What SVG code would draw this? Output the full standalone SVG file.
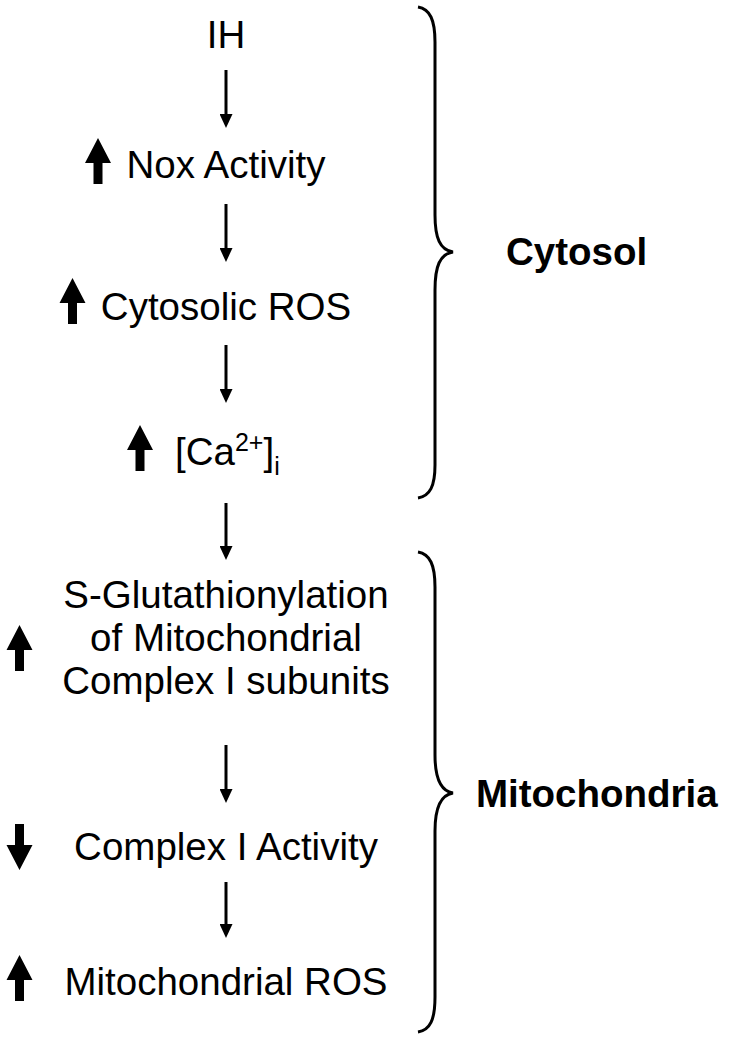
<svg xmlns="http://www.w3.org/2000/svg" width="729" height="1050" viewBox="0 0 729 1050">
  <style>
    .t { font-family: "Liberation Sans", Arial, sans-serif; font-size: 38.5px; fill: #000; }
    .c { text-anchor: middle; }
    .b { font-weight: bold; }
    .conn { stroke: #000; stroke-width: 3; fill: none; }
    .brace { stroke: #000; stroke-width: 3; fill: none; }
  </style>
  <defs>
    <marker id="ah" markerUnits="userSpaceOnUse" markerWidth="14" markerHeight="13" viewBox="0 0 14 13" refX="4" refY="6.5" orient="auto">
      <path d="M0,0 L14,6.5 L0,13 Z" fill="#000"/>
    </marker>
    <path id="up" d="M0,0 L13,25 L4.5,25 L4.5,46 L-4.5,46 L-4.5,25 L-13,25 Z" fill="#000"/>
  </defs>
  <rect width="729" height="1050" fill="#fff"/>

  <g id="connectors">
    <line class="conn" x1="226" y1="70" x2="226" y2="118" marker-end="url(#ah)"/>
    <line class="conn" x1="226" y1="204" x2="226" y2="252" marker-end="url(#ah)"/>
    <line class="conn" x1="226" y1="345" x2="226" y2="393" marker-end="url(#ah)"/>
    <line class="conn" x1="226" y1="503" x2="226" y2="550" marker-end="url(#ah)"/>
    <line class="conn" x1="226" y1="745" x2="226" y2="793" marker-end="url(#ah)"/>
    <line class="conn" x1="226" y1="882" x2="226" y2="928" marker-end="url(#ah)"/>
  </g>

  <g id="node-ih">
    <text class="t c" x="226" y="48">IH</text>
  </g>
  <g id="node-nox">
    <use href="#up" x="98" y="138"/>
    <text class="t c" x="226" y="178">Nox Activity</text>
  </g>
  <g id="node-cytros">
    <use href="#up" x="72.5" y="278"/>
    <text class="t c" x="226" y="320">Cytosolic ROS</text>
  </g>
  <g id="node-ca">
    <use href="#up" x="140" y="425"/>
    <text class="t" x="175" y="465">[Ca<tspan font-size="25" dy="-14">2+</tspan><tspan dy="14">]</tspan><tspan font-size="25" dy="10">i</tspan></text>
  </g>
  <g id="node-sglut">
    <use href="#up" x="19.5" y="625"/>
    <text class="t c" x="226" y="608">S-Glutathionylation</text>
    <text class="t c" x="226" y="651">of Mitochondrial</text>
    <text class="t c" x="226" y="694">Complex I subunits</text>
  </g>
  <g id="node-complex">
    <use href="#up" transform="translate(19.5,870) scale(1,-1)"/>
    <text class="t c" x="226" y="860">Complex I Activity</text>
  </g>
  <g id="node-mitoros">
    <use href="#up" x="19.5" y="955"/>
    <text class="t c" x="226" y="995">Mitochondrial ROS</text>
  </g>

  <g id="cytosol">
    <path class="brace" d="M418,7 C430,9 435,20 435,42 L435,215 C435,238 440,250 453,252 C440,254 435,266 435,290 L435,465 C435,486 430,496 418,498"/>
    <text class="t b" x="506" y="265">Cytosol</text>
  </g>
  <g id="mitochondria">
    <path class="brace" d="M418,552 C430,554 435,565 435,587 L435,755 C435,778 440,791 453,793 C440,795 435,808 435,831 L435,997 C435,1020 430,1030 418,1032"/>
    <text class="t b" x="476" y="807">Mitochondria</text>
  </g>
</svg>
